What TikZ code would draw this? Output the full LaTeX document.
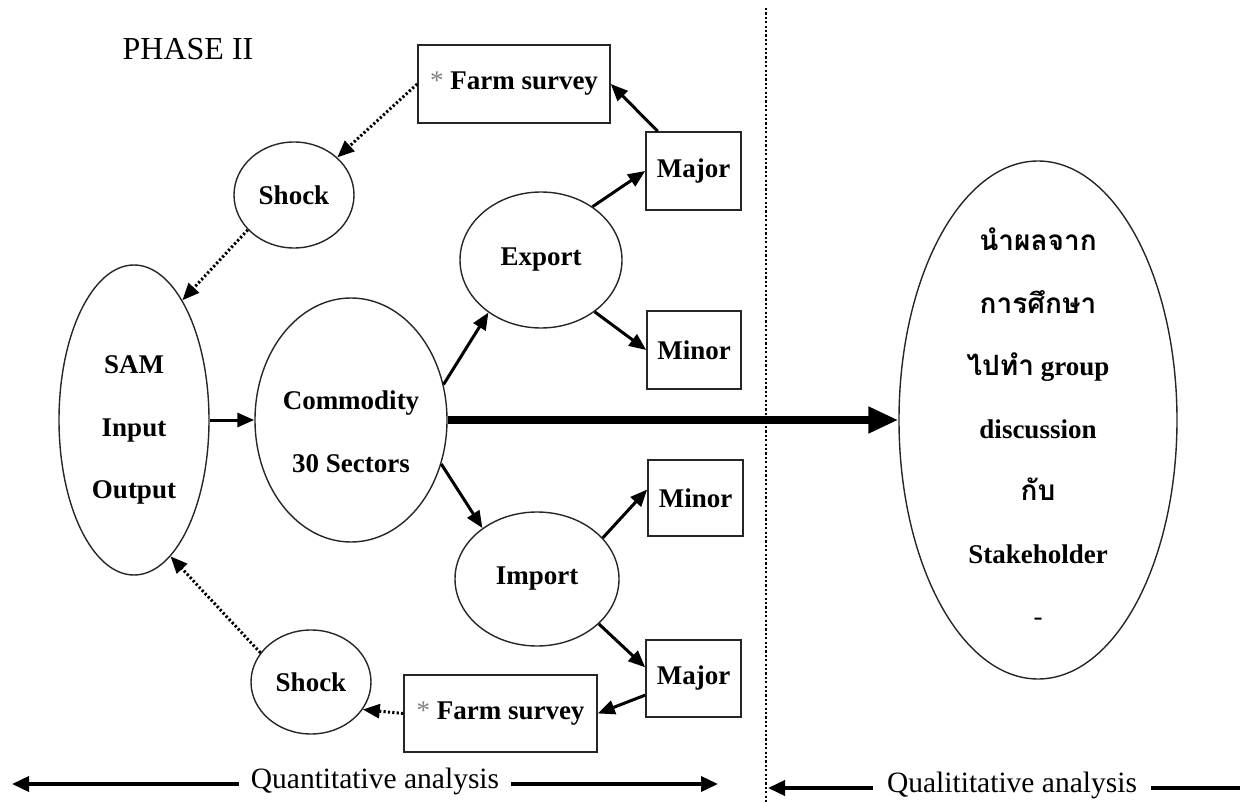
\documentclass[tikz,border=0pt]{standalone}
\usepackage{fontspec}
\setmainfont{Liberation Serif}
\newfontfamily\thaifont[Script=Thai]{Loma}
\usetikzlibrary{arrows.meta,shapes.geometric,calc}

\newcommand\thaiword[1]{{\thaifont\fontsize{28}{62.5}\selectfont #1}}

\begin{document}
\begin{tikzpicture}[x=1pt,y=-1pt,
  oval/.style={ellipse, draw=black!85, line width=1.4pt, inner sep=0pt,
    font=\fontsize{27}{62.5}\selectfont\bfseries},
  box/.style={rectangle, draw=black!85, line width=1.6pt, inner sep=0pt,
    font=\fontsize{27}{62.5}\selectfont\bfseries},
  txt/.style={font=\fontsize{27}{62.5}\selectfont\bfseries, align=center, inner sep=0pt},
  link/.style={line width=3pt, -{Triangle[length=17pt,width=14pt]}},
  dotlink/.style={line width=3pt, dash pattern=on 2.2pt off 2.2pt,
    -{Triangle[length=17pt,width=14pt]}},
  bigarrow/.style={line width=7.5pt, -{Triangle[length=30pt,width=25pt]}},
  spanarrow/.style={line width=3.6pt, -{Triangle[length=17pt,width=15pt]}},
  spanlabel/.style={font=\fontsize{29.5}{30}\selectfont, inner xsep=12pt, inner ysep=0pt,
    text height=9pt, text depth=0pt},
  divider/.style={line width=2.8pt, dash pattern=on 2.2pt off 2.2pt}
]
\useasboundingbox (0,0) rectangle (1240,802);

% title
\node[font=\fontsize{32}{32}\selectfont, inner sep=0pt] (title) at (188,49) {PHASE II};

% ovals
\node[oval, minimum width=150pt, minimum height=310pt] (sam) at (134,420) {};
\node[txt] (samtxt) at (134,430) {SAM\\Input\\Output};
\node[oval, minimum width=192pt, minimum height=244pt] (com) at (351,420) {};
\node[txt] (comtxt) at (351,432) {Commodity\\30 Sectors};
\node[oval, minimum width=120pt, minimum height=106pt] (shk1) at (294,195) {Shock};
\node[oval, minimum width=120pt, minimum height=104pt] (shk2) at (311,682) {Shock};
\node[oval, minimum width=162pt, minimum height=136pt] (exp) at (541,260) {Export};
\node[oval, minimum width=164pt, minimum height=134pt] (imp) at (537,579) {Import};
\node[oval, minimum width=278pt, minimum height=518pt] (qual) at (1038,420) {};
\node[txt] (qualtxt) at (1038,427) {\thaiword{นำผลจาก}\\\thaiword{การศึกษา}\\\thaiword{ไปทำ} group\\discussion\\\thaiword{กับ}\\Stakeholder\\{\mdseries -}};

% boxes
\node[box, minimum width=192pt, minimum height=78pt] (fs1) at (514,84) {{\mdseries\color{black!50}*} Farm survey};
\node[box, minimum width=95pt, minimum height=78pt] (maj1) at (693.5,171) {Major};
\node[box, minimum width=94pt, minimum height=78pt] (min1) at (694,350) {Minor};
\node[box, minimum width=95pt, minimum height=76pt] (min2) at (695.5,498) {Minor};
\node[box, minimum width=95pt, minimum height=77pt] (maj2) at (693.5,678.5) {Major};
\node[box, minimum width=193pt, minimum height=77pt] (fs2) at (500.5,713.5) {{\mdseries\color{black!50}*} Farm survey};

% connectors
\draw[dotlink] (fs1.west) -- (shk1.41);
\draw[dotlink] (shk1.-143) -- (sam.68);
\draw[link] (sam.east) -- (com.west);
\draw[link] (com.21) -- (exp.-135);
\draw[link] (exp.-44) -- (min1.west);
\draw[link] (exp.46) -- (maj1.west);
\draw[link] (maj1.132) -- (fs1.east);
\draw[link] (com.-26) -- (imp.137);
\draw[link] (imp.32) -- (min2.170);
\draw[link] (imp.-36) -- (maj2.167);
\draw[link] (maj2.199) -- (fs2.east);
\draw[dotlink] (fs2.west) -- (shk2.-28);
\draw[dotlink] (shk2.150) -- (sam.-75);
\draw[bigarrow] (com.east) -- (qual.west);

% divider between the two halves
\draw[divider] (766,8) -- (766,802);

% span labels along the bottom
\node[spanlabel] (quant) at (375,784) {Quantitative analysis};
\coordinate (quantL) at (12,784);
\coordinate (quantR) at (718,784);
\draw[spanarrow] (quant.west) -- (quantL);
\draw[spanarrow] (quant.east) -- (quantR);
\node[spanlabel, inner xsep=14pt] (qual2) at (1012,788) {Qualititative analysis};
\coordinate (qualL) at (768,788);
\coordinate (qualR) at (1242,788);
\draw[spanarrow] (qual2.west) -- (qualL);
\draw[line width=3.6pt] (qual2.east) -- (qualR);
\end{tikzpicture}
\end{document}
